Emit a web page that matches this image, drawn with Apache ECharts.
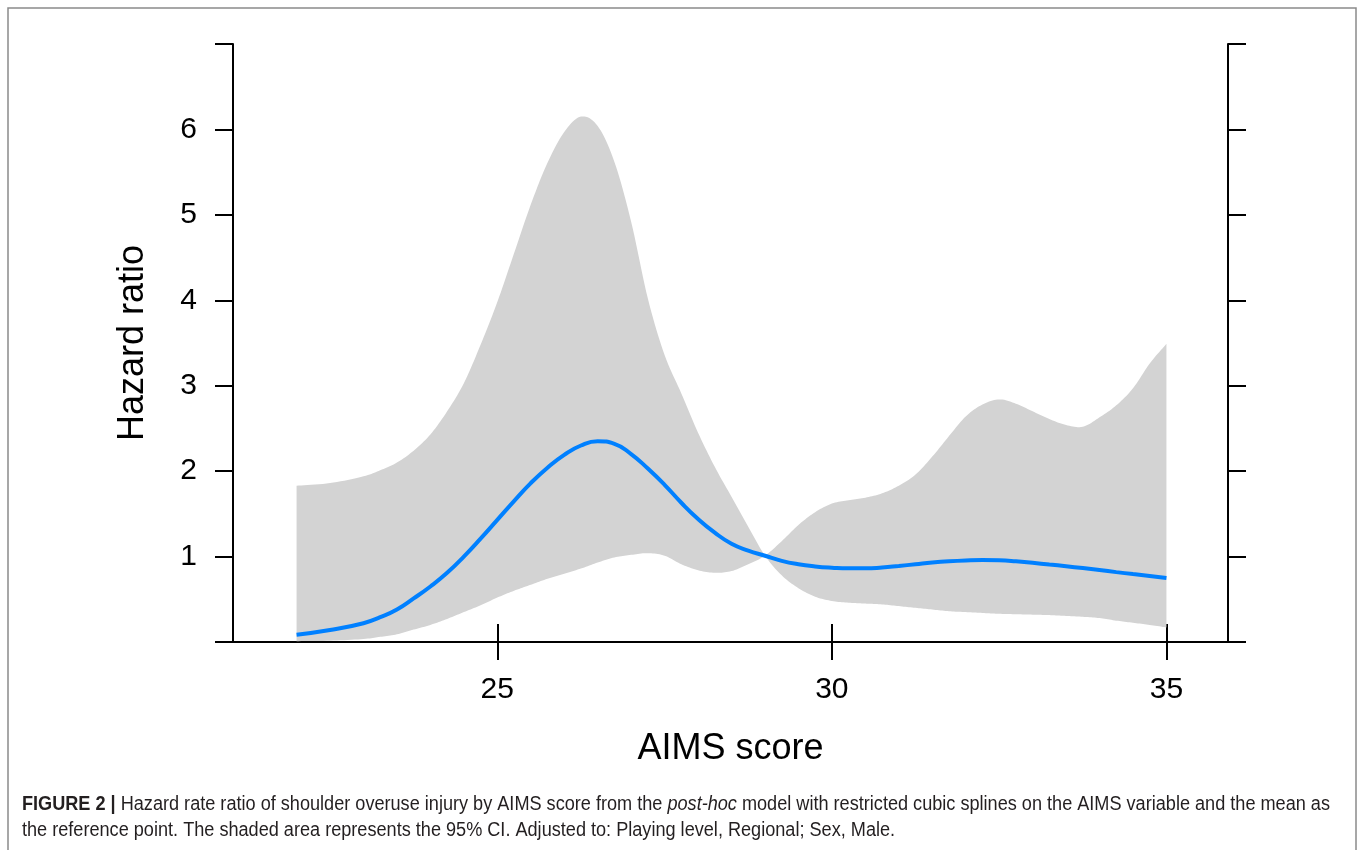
<!DOCTYPE html>
<html>
<head>
<meta charset="utf-8">
<script src="https://cdn.jsdelivr.net/npm/echarts@6/dist/echarts.min.js"></script>
<style>
html,body{margin:0;padding:0;background:#fff;}
#chart{width:1358px;height:850px;}
</style>
</head>
<body>
<div id="chart"></div>
<script>
// ---- data ----
const xValues = [22, 22.5, 23, 23.25, 23.5, 23.75, 24, 24.25, 24.5, 24.75, 25, 25.25, 25.5, 25.75, 26, 26.25, 26.5, 26.75, 27, 27.25, 27.5, 27.75, 28, 28.25, 28.5, 28.75, 29, 29.25, 29.5, 29.75, 30, 30.25, 30.5, 30.75, 31, 31.25, 31.5, 31.75, 32, 32.25, 32.5, 32.75, 33, 33.25, 33.5, 33.75, 34, 34.25, 34.5, 34.75, 35];
const hazardRatio = [0.085, 0.14, 0.22, 0.29, 0.38, 0.51, 0.65, 0.81, 1.00, 1.21, 1.43, 1.65, 1.86, 2.04, 2.19, 2.30, 2.35, 2.32, 2.20, 2.03, 1.84, 1.63, 1.44, 1.28, 1.15, 1.07, 1.01, 0.95, 0.91, 0.885, 0.87, 0.862, 0.862, 0.872, 0.89, 0.91, 0.93, 0.945, 0.955, 0.96, 0.957, 0.945, 0.927, 0.907, 0.887, 0.865, 0.842, 0.818, 0.795, 0.773, 0.75];
const ciUpper = [1.83, 1.86, 1.94, 2.01, 2.10, 2.24, 2.43, 2.70, 3.03, 3.48, 3.98, 4.55, 5.12, 5.61, 5.97, 6.15, 6.04, 5.62, 4.92, 4.02, 3.36, 2.91, 2.45, 2.05, 1.70, 1.35, 1.01, 1.18, 1.37, 1.52, 1.62, 1.66, 1.69, 1.74, 1.83, 1.96, 2.17, 2.41, 2.64, 2.78, 2.84, 2.79, 2.70, 2.61, 2.54, 2.52, 2.63, 2.77, 2.97, 3.26, 3.49];
const ciLower = [0.01, 0.015, 0.035, 0.06, 0.09, 0.145, 0.20, 0.27, 0.35, 0.43, 0.52, 0.60, 0.67, 0.74, 0.80, 0.86, 0.93, 0.99, 1.02, 1.04, 1.01, 0.91, 0.84, 0.81, 0.83, 0.91, 1.01, 0.78, 0.63, 0.53, 0.48, 0.46, 0.45, 0.44, 0.42, 0.40, 0.38, 0.36, 0.35, 0.34, 0.33, 0.325, 0.32, 0.315, 0.305, 0.295, 0.28, 0.25, 0.225, 0.20, 0.17];
const xTickValues = [25, 30, 35];
const yTickLabels = [1, 2, 3, 4, 5, 6];
const xAxisTitle = 'AIMS score';
const yAxisTitle = 'Hazard ratio';
const captionBold = 'FIGURE 2 |';
const captionLine1a = ' Hazard rate ratio of shoulder overuse injury by AIMS score from the ';
const captionItalic = 'post-hoc';
const captionLine1b = ' model with restricted cubic splines on the AIMS variable and the mean as';
const captionLine2 = 'the reference point. The shaded area represents the 95% CI. Adjusted to: Playing level, Regional; Sex, Male.';

// ---- layout helpers ----
const FONT = '"Liberation Sans", Arial, sans-serif';
const CAP_SIZE = 20;
function measure(text, font) {
  const ctx = document.createElement('canvas').getContext('2d');
  ctx.font = font;
  return ctx.measureText(text).width;
}
const capWidth = measure(captionBold, 'bold ' + CAP_SIZE + 'px ' + FONT)
  + measure(captionLine1a + captionLine1b, CAP_SIZE + 'px ' + FONT)
  + measure(captionItalic, 'italic ' + CAP_SIZE + 'px ' + FONT);
const capScale = 1308 / capWidth;

// Catmull-Rom sampling in pixel space (drawing only)
function sampleSpline(pts, n) {
  const out = [];
  for (let i = 0; i < pts.length - 1; i++) {
    const p0 = pts[Math.max(i - 1, 0)], p1 = pts[i], p2 = pts[i + 1], p3 = pts[Math.min(i + 2, pts.length - 1)];
    for (let k = 0; k < n; k++) {
      const t = k / n, t2 = t * t, t3 = t2 * t;
      const f = (a, b, c, d) => 0.5 * (2 * b + (-a + c) * t + (2 * a - 5 * b + 4 * c - d) * t2 + (-a + 3 * b - 3 * c + d) * t3);
      out.push([f(p0[0], p1[0], p2[0], p3[0]), f(p0[1], p1[1], p2[1], p3[1])]);
    }
  }
  out.push(pts[pts.length - 1]);
  return out;
}

function renderBand(params, api) {
  if (params.dataIndex !== 0) return null;
  const top = [], bottom = [];
  let swapped = false;
  for (let i = 0; i < xValues.length; i++) {
    const u = api.coord([xValues[i], ciUpper[i]]);
    const l = api.coord([xValues[i], ciLower[i]]);
    top.push(swapped ? l : u);
    bottom.push(swapped ? u : l);
    if (Math.abs(ciUpper[i] - ciLower[i]) < 1e-9) swapped = !swapped;
  }
  const pts = sampleSpline(top, 10).concat(sampleSpline(bottom.slice().reverse(), 10));
  return {
    type: 'polygon',
    shape: { points: pts },
    style: { fill: '#d3d3d3', stroke: null }
  };
}

const hrPts = xValues.map((x, i) => [x, hazardRatio[i]]);
const bandData = xValues.map((x, i) => [x, ciLower[i], ciUpper[i]]);
const axisLineStyle = { color: '#000', width: 2 };

const chart = echarts.init(document.getElementById('chart'), null, { renderer: 'canvas' });
chart.setOption({
  animation: false,
  backgroundColor: '#fff',
  grid: { left: 233, right: 130, top: 44, bottom: 208, containLabel: false },
  xAxis: [
    {
      type: 'value', position: 'bottom', min: 21.05, max: 35.92,
      axisLine: { show: true, lineStyle: axisLineStyle },
      axisTick: { show: true, inside: false, length: 18, lineStyle: axisLineStyle, customValues: xTickValues },
      axisLabel: { show: true, customValues: xTickValues, margin: 33, fontSize: 30, color: '#000', fontFamily: FONT },
      splitLine: { show: false },
      name: xAxisTitle, nameLocation: 'middle', nameGap: 89,
      nameTextStyle: { fontSize: 36, color: '#000', fontFamily: FONT }
    },
    {
      type: 'value', position: 'top', min: 21.05, max: 35.92,
      axisLine: { show: true, lineStyle: axisLineStyle },
      axisTick: { show: true, inside: false, length: 18, lineStyle: axisLineStyle, customValues: xTickValues },
      axisLabel: { show: false, customValues: xTickValues },
      splitLine: { show: false }
    }
  ],
  yAxis: [
    {
      type: 'value', position: 'left', min: 0, max: 7, interval: 1,
      axisLine: { show: true, lineStyle: axisLineStyle },
      axisTick: { show: true, inside: false, length: 18, lineStyle: axisLineStyle },
      axisLabel: {
        show: true, margin: 36, fontSize: 30, color: '#000', fontFamily: FONT,
        showMinLabel: true, showMaxLabel: true,
        formatter: v => (yTickLabels.indexOf(v) >= 0 ? String(v) : '')
      },
      splitLine: { show: false },
      name: yAxisTitle, nameLocation: 'middle', nameGap: 82, nameRotate: 90,
      nameTextStyle: { fontSize: 36, color: '#000', fontFamily: FONT }
    },
    {
      type: 'value', position: 'right', min: 0, max: 7, interval: 1,
      axisLine: { show: true, lineStyle: axisLineStyle },
      axisTick: { show: true, inside: false, length: 18, lineStyle: axisLineStyle },
      axisLabel: { show: false },
      splitLine: { show: false }
    }
  ],
  series: [
    {
      name: '95% CI', type: 'custom', data: bandData,
      encode: { x: 0, y: [1, 2] },
      renderItem: renderBand, silent: true, z: 1
    },
    {
      name: 'Hazard ratio', type: 'line', data: hrPts,
      symbol: 'none', smooth: 0.5, lineStyle: { color: '#0080ff', width: 4 }, z: 3
    }
  ],
  graphic: [
    {
      type: 'rect', silent: true, z: -10,
      shape: { x: 8, y: 8, width: 1348, height: 870 },
      style: { fill: 'none', stroke: '#8a8a8a', lineWidth: 1.5 }
    },
    {
      type: 'text', silent: true, x: 22, y: 804, scaleX: capScale,
      style: {
        x: 0, y: 0, verticalAlign: 'middle', align: 'left',
        text: '{b|' + captionBold + '}' + captionLine1a + '{i|' + captionItalic + '}' + captionLine1b,
        fontSize: CAP_SIZE, fontFamily: FONT, fill: '#231f20',
        rich: {
          b: { fontWeight: 'bold', fontSize: CAP_SIZE, fontFamily: FONT, fill: '#231f20' },
          i: { fontStyle: 'italic', fontSize: CAP_SIZE, fontFamily: FONT, fill: '#231f20' }
        }
      }
    },
    {
      type: 'text', silent: true, x: 22, y: 830, scaleX: capScale,
      style: {
        x: 0, y: 0, verticalAlign: 'middle', align: 'left',
        text: captionLine2, fontSize: CAP_SIZE, fontFamily: FONT, fill: '#231f20'
      }
    }
  ]
});
</script>
</body>
</html>
